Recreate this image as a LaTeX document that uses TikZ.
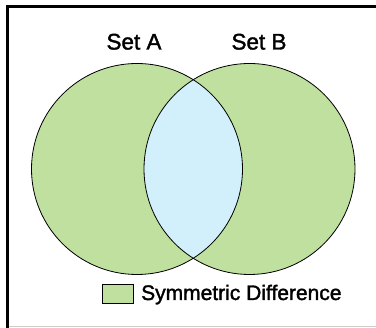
\documentclass[tikz,border=0pt]{standalone}
\usepackage{fontspec}
\setmainfont[FakeBold=1.6]{Liberation Sans}
\usepackage{tikz}
\usetikzlibrary{positioning}
\definecolor{setgreen}{RGB}{191,224,158}
\definecolor{lensblue}{RGB}{210,240,252}

\begin{document}
\begin{tikzpicture}[x=1pt, y=1pt, lbl/.style={font=\fontsize{21}{25}\selectfont, inner sep=0pt}]
			\useasboundingbox (0,0) rectangle (376,328);
			%\draw[step=20,gray,very thin] (0,0) grid (376,328);
			% frame
			\draw[line width=3pt] (7.5,0) -- (7.5,321.5) -- (376,321.5);
			\draw[gray!40, line width=1pt] (9,1) -- (376,1);
			% sets
			\fill[setgreen] (137,159) circle[radius=105.5];
			\fill[setgreen] (249.5,159) circle[radius=105.5];
			\begin{scope}
				\clip (137,159) circle[radius=105.5];
				\fill[lensblue] (249.5,159) circle[radius=105.5];
			\end{scope}
			\draw[line width=0.8pt] (137,159) circle[radius=105.5];
			\draw[line width=0.8pt] (249.5,159) circle[radius=105.5];
			\node[lbl, font=\fontsize{22.5}{26}\selectfont, anchor=base] (setA) at (134,278.5) {Set A};
			\node[lbl, font=\fontsize{22.5}{26}\selectfont, anchor=base] (setB) at (259,278.5) {Set B};
			% legend
			\draw[fill=setgreen, line width=0.8pt] (102,25) rectangle (133,44);
			\node[lbl, anchor=base west] (symdiff) at (141,28) {Symmetric Difference};
		\end{tikzpicture}
\end{document}
